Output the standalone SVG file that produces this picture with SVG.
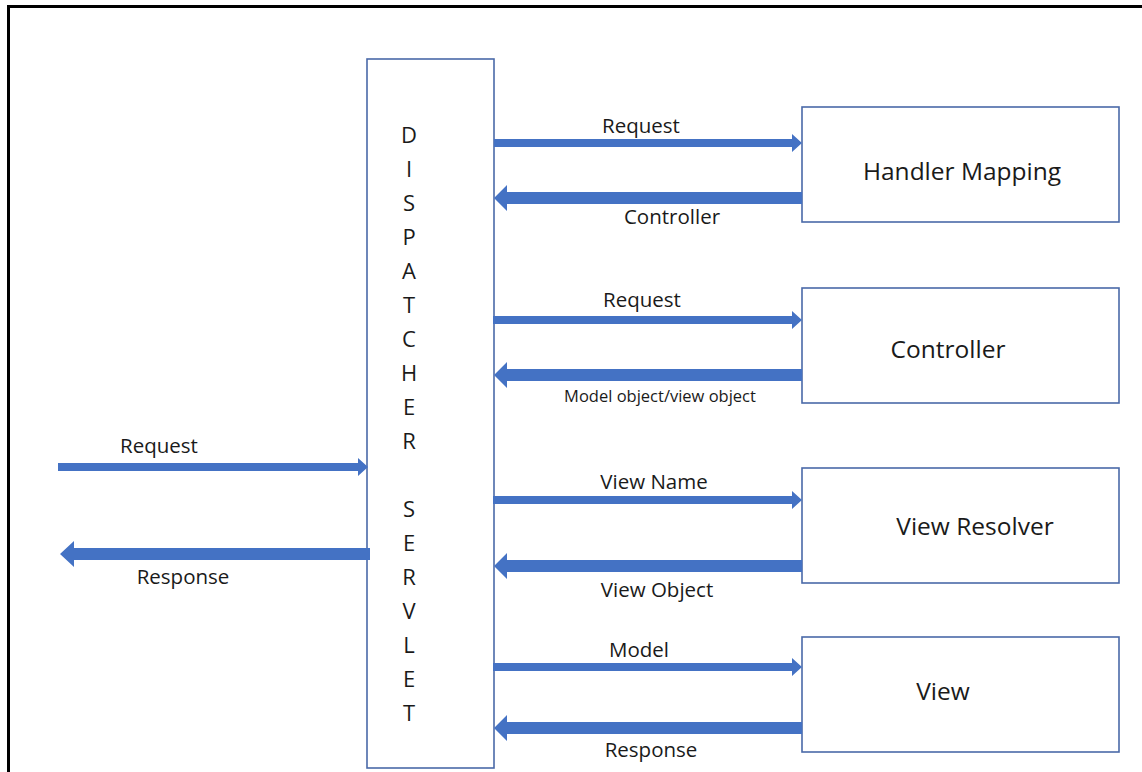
<svg xmlns="http://www.w3.org/2000/svg" width="1142" height="772" viewBox="0 0 1142 772">
<style>
.box{fill:#fff;stroke:#4a69a8;stroke-width:1.6}
.arr{fill:#4472c4}
text{font-family:"Open Sans","Noto Sans","DejaVu Sans",sans-serif;fill:#1a1a1a}
.lbl{font-size:20.5px;text-anchor:middle}
.sm{font-size:16.5px;text-anchor:middle}
.node{font-size:24.5px;text-anchor:middle}
.ds{font-size:22px;text-anchor:middle}
</style>
<rect width="1142" height="772" fill="#fff"/>
<path d="M8.5 772 V6.5 H1142" fill="none" stroke="#000" stroke-width="3"/>
<g id="dispatcher">
<rect class="box" x="367" y="59" width="127" height="709"/>
<text class="ds"><tspan x="409" y="143">D</tspan><tspan x="409" y="177">I</tspan><tspan x="409" y="211">S</tspan><tspan x="409" y="245">P</tspan><tspan x="409" y="279">A</tspan><tspan x="409" y="313">T</tspan><tspan x="409" y="347">C</tspan><tspan x="409" y="381">H</tspan><tspan x="409" y="415">E</tspan><tspan x="409" y="449">R</tspan><tspan x="409" y="517">S</tspan><tspan x="409" y="551">E</tspan><tspan x="409" y="585">R</tspan><tspan x="409" y="619">V</tspan><tspan x="409" y="653">L</tspan><tspan x="409" y="687">E</tspan><tspan x="409" y="721">T</tspan></text>
</g>
<g id="handler-mapping">
<rect class="box" x="802" y="107" width="317" height="115"/>
<text class="node" x="962" y="180">Handler Mapping</text>
</g>
<g id="controller">
<rect class="box" x="802" y="288" width="317" height="115"/>
<text class="node" x="948" y="358">Controller</text>
</g>
<g id="view-resolver">
<rect class="box" x="802" y="468" width="317" height="115"/>
<text class="node" x="975" y="535">View Resolver</text>
</g>
<g id="view">
<rect class="box" x="802" y="637" width="317" height="115"/>
<text class="node" x="943" y="700">View</text>
</g>
<g id="connectors">
<polygon class="arr" points="494,139 792,139 792,134 802,143 792,152 792,147 494,147"/>
<polygon class="arr" points="493,316 792,316 792,311 802,320 792,329 792,324 493,324"/>
<polygon class="arr" points="493,496 792,496 792,491 802,500 792,509 792,504 493,504"/>
<polygon class="arr" points="493,663 792,663 792,658 802,667 792,676 792,671 493,671"/>
<polygon class="arr" points="58,463 358,463 358,458 368,467 358,476 358,471 58,471"/>
<polygon class="arr" points="802,192 507,192 507,185 494,198 507,211 507,204 802,204"/>
<polygon class="arr" points="802,369 507,369 507,362 494,375 507,388 507,381 802,381"/>
<polygon class="arr" points="802,560 507,560 507,553 494,566 507,579 507,572 802,572"/>
<polygon class="arr" points="802,722 507,722 507,715 494,728 507,741 507,734 802,734"/>
<polygon class="arr" points="370,548 74,548 74,541 60,554 74,567 74,560 370,560"/>
<text class="lbl" x="641" y="133">Request</text>
<text class="lbl" x="672" y="224">Controller</text>
<text class="lbl" x="642" y="307">Request</text>
<text class="sm" x="660" y="402">Model object/view object</text>
<text class="lbl" x="654" y="489">View Name</text>
<text class="lbl" x="657" y="597">View Object</text>
<text class="lbl" x="639" y="657">Model</text>
<text class="lbl" x="651" y="757">Response</text>
<text class="lbl" x="159" y="453">Request</text>
<text class="lbl" x="183" y="584">Response</text>
</g>
</svg>
